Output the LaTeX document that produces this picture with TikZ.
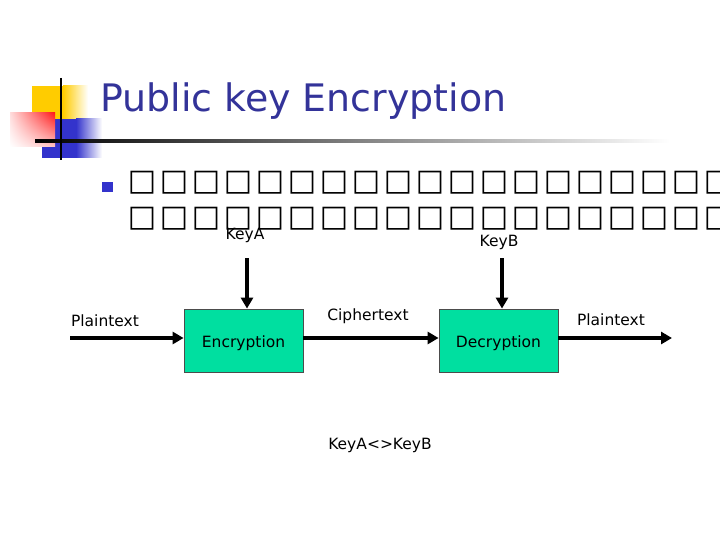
\documentclass[tikz,border=0pt]{standalone}
\usepackage{fontspec}
\setmainfont{DejaVu Sans}
\usetikzlibrary{arrows.meta,calc,shadings}
\definecolor{bleu}{HTML}{333399}
\definecolor{puce}{HTML}{3333CC}
\definecolor{jaune}{HTML}{FFCC00}
\definecolor{rouge}{HTML}{FF1A1A}
\definecolor{turquoise}{HTML}{00DFA0}
\tikzset{fig/.style={
    line width=3.5pt,
    -{Triangle[length=11pt,width=12pt]}},
  txt/.style={
    anchor=base,
    inner sep=0pt,
    font=\fontsize{15.5}{18}\selectfont},
  bloc/.style={
    draw=gray!60!black,
    line width=0.8pt,
    fill=turquoise,
    minimum width=119pt,
    minimum height=63pt,
    inner sep=0pt,
    text height=16.7pt,
    text depth=3.7pt,
    font=\fontsize{15.5}{18}\selectfont},
  tofu/.style={
    inner sep=0pt,
    font=\fontsize{30}{30}\selectfont\bfseries}}

\begin{document}
\begin{tikzpicture}[x=1pt,y=-1pt]

\clip (0,0) rectangle (720,540);

\fill[jaune] (32,86) rectangle (63,119);
\shade[left color=jaune,right color=white] (63,86) rectangle (88,119);
\fill[puce] (42,119) rectangle (76,158);
\shade[left color=puce,right color=white] (76,119) rectangle (102,158);
\shade[upper left=rouge!15,upper right=rouge,
  lower left=white,lower right=rouge!25] (10,113) rectangle (55,147);
\shade[left color=black,right color=white] (35,139.8) rectangle (670,142.2);
\draw[line width=2.5pt] (61,78) -- (61,160);

\node[anchor=base west,
  inner sep=0pt,
  text=bleu,
  font=\fontsize{37.9}{40}\selectfont] (titre) at (100,112) {Public key Encryption};

\node[fill=puce,
  minimum width=11pt,
  minimum height=10pt,
  inner sep=0pt] (puce) at (107,187) {};

\foreach \i in {0,...,18} {
  \node[tofu] (ta\i) at (142+32*\i,182.5) {□};
  \node[tofu] (tb\i) at (142+32*\i,218.5) {□};
}

\node[bloc] (enc) at (243.5,340.5) {Encryption};
\node[bloc] (dec) at (498.5,340.5) {Decryption};

\node[txt] (pa) at (105,326) {Plaintext};
\node[txt] (ct) at (368,320) {Ciphertext};
\node[txt] (pb) at (611,325) {Plaintext};
\node[txt] (cla) at (245,240) {KeyA};
\node[txt] (clb) at (499,246) {KeyB};
\node[txt] (diff) at (380,449) {KeyA<>KeyB};

\coordinate (p0) at (70,338);
\coordinate (p1) at (672,338);
\coordinate (ka) at (247,258);
\coordinate (kb) at (502,258);

\draw[fig] (p0) -- (p0 -| enc.west);
\draw[fig] (enc.east |- p0) -- (dec.west |- p0);
\draw[fig] (dec.east |- p0) -- (p1);
\draw[fig] (ka) -- (ka |- enc.north);
\draw[fig] (kb) -- (kb |- dec.north);

\end{tikzpicture}
\end{document}
